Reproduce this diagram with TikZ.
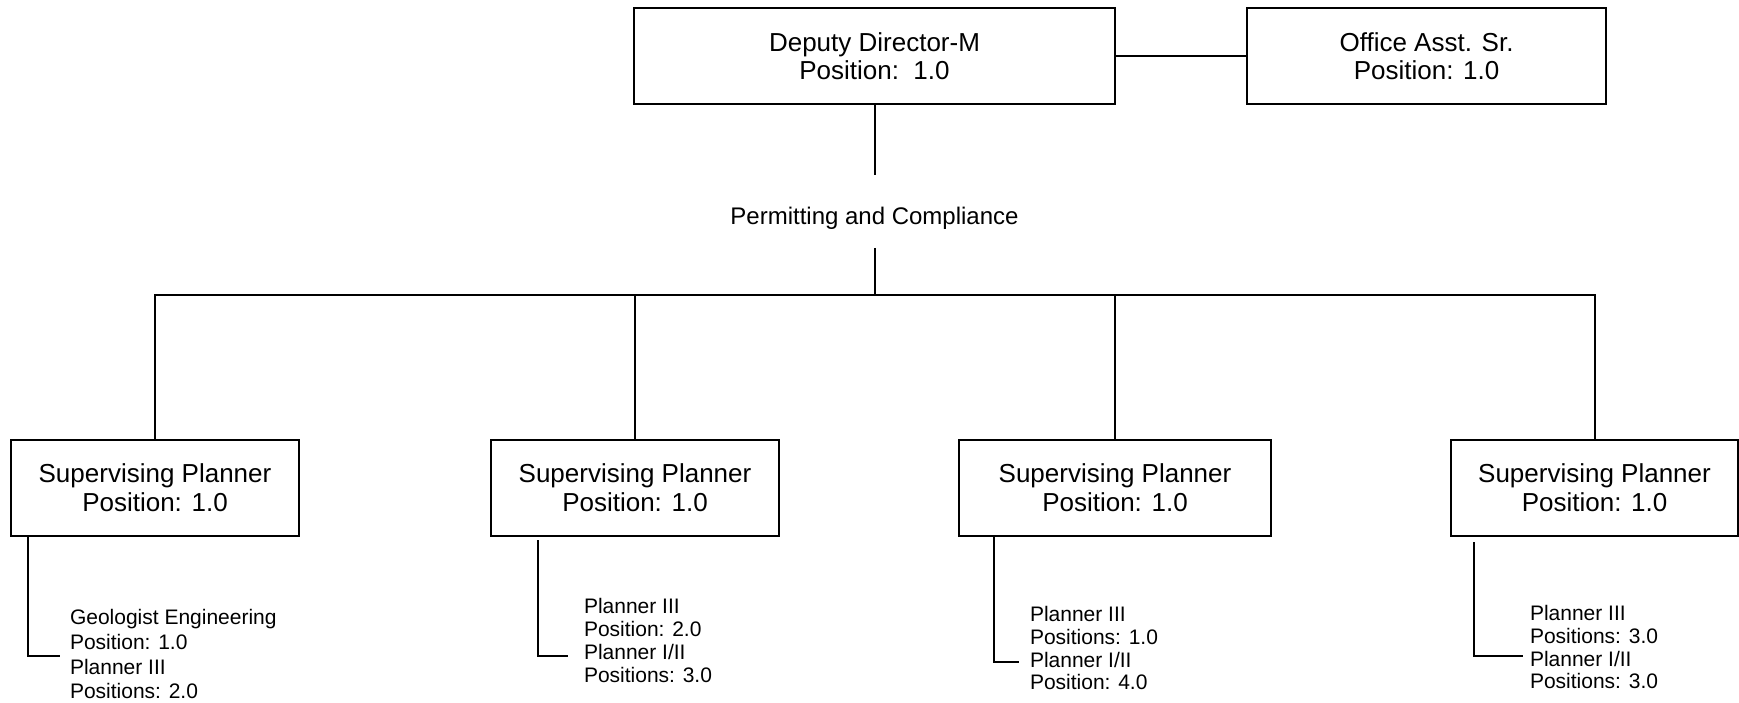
\documentclass[tikz,border=0pt]{standalone}
\usepackage{fontspec}
\setmainfont{Liberation Sans}
\begin{document}
\begin{tikzpicture}[x=1pt,y=-1pt,line width=2pt,
  box/.style={draw,line width=2pt,inner sep=0pt,minimum height=96pt,align=center,font=\fontsize{26}{29}\selectfont},
  subtext/.style={inner sep=0pt,anchor=north west,align=left,font=\fontsize{21}{24}\selectfont},
  conn/.style={line width=2pt}]
\useasboundingbox (0,0) rectangle (1739,703);
% top boxes
\node[box,minimum width=481pt,font=\fontsize{26}{28}\selectfont] (dd) at (874.5,56) {Deputy Director-M\\Position:\ \ 1.0};
\node[box,minimum width=359pt,font=\fontsize{26}{28}\selectfont] (oa) at (1426.5,56) {Office Asst. Sr.\\Position: 1.0};
\draw[conn] (dd.east) -- (oa.west);
% section label
\node[inner sep=0pt,font=\fontsize{24}{28}\selectfont] (pc) at (874.5,218) {Permitting and Compliance};
\coordinate (pa) at (874.5,175);
\coordinate (pb) at (874.5,248);
\coordinate (bus) at (874.5,295);
\draw[conn] (dd.south) -- (pa);
\draw[conn] (pb) -- (bus);
% supervisors
\node[box,minimum width=288pt] (s1) at (155,488) {Supervising Planner\\Position: 1.0};
\node[box,minimum width=288pt] (s2) at (635,488) {Supervising Planner\\Position: 1.0};
\node[box,minimum width=312pt] (s3) at (1115,488) {Supervising Planner\\Position: 1.0};
\node[box,minimum width=287pt] (s4) at (1594.5,488) {Supervising Planner\\Position: 1.0};
\draw[conn] (bus) -| (s1.north);
\draw[conn] (bus) -| (s2.north);
\draw[conn] (bus) -| (s3.north);
\draw[conn] (bus) -| (s4.north);
% sub texts
\node[subtext,font=\fontsize{21}{24.7}\selectfont] (t1) at (69,608.5) {Geologist Engineering\\Position: 1.0\\Planner III\\Positions: 2.0};
\node[subtext,font=\fontsize{21}{23}\selectfont] (t2) at (583,597.5) {Planner III\\Position: 2.0\\Planner I/II\\Positions: 3.0};
\node[subtext,font=\fontsize{21}{22.7}\selectfont] (t3) at (1029,605.5) {Planner III\\Positions: 1.0\\Planner I/II\\Position: 4.0};
\node[subtext,font=\fontsize{21}{22.7}\selectfont] (t4) at (1529,604.5) {Planner III\\Positions: 3.0\\Planner I/II\\Positions: 3.0};
\coordinate (e1) at (60,656);
\coordinate (e2) at (568,656);
\coordinate (e3) at (1019,662);
\coordinate (e4) at (1523,656);
\draw[conn] ([xshift=18pt]s1.south west) |- (e1);
\draw[conn] ([xshift=48pt,yshift=-3pt]s2.south west) |- (e2);
\draw[conn] ([xshift=36pt]s3.south west) |- (e3);
\draw[conn] ([xshift=24pt,yshift=-5pt]s4.south west) |- (e4);
\end{tikzpicture}
\end{document}
